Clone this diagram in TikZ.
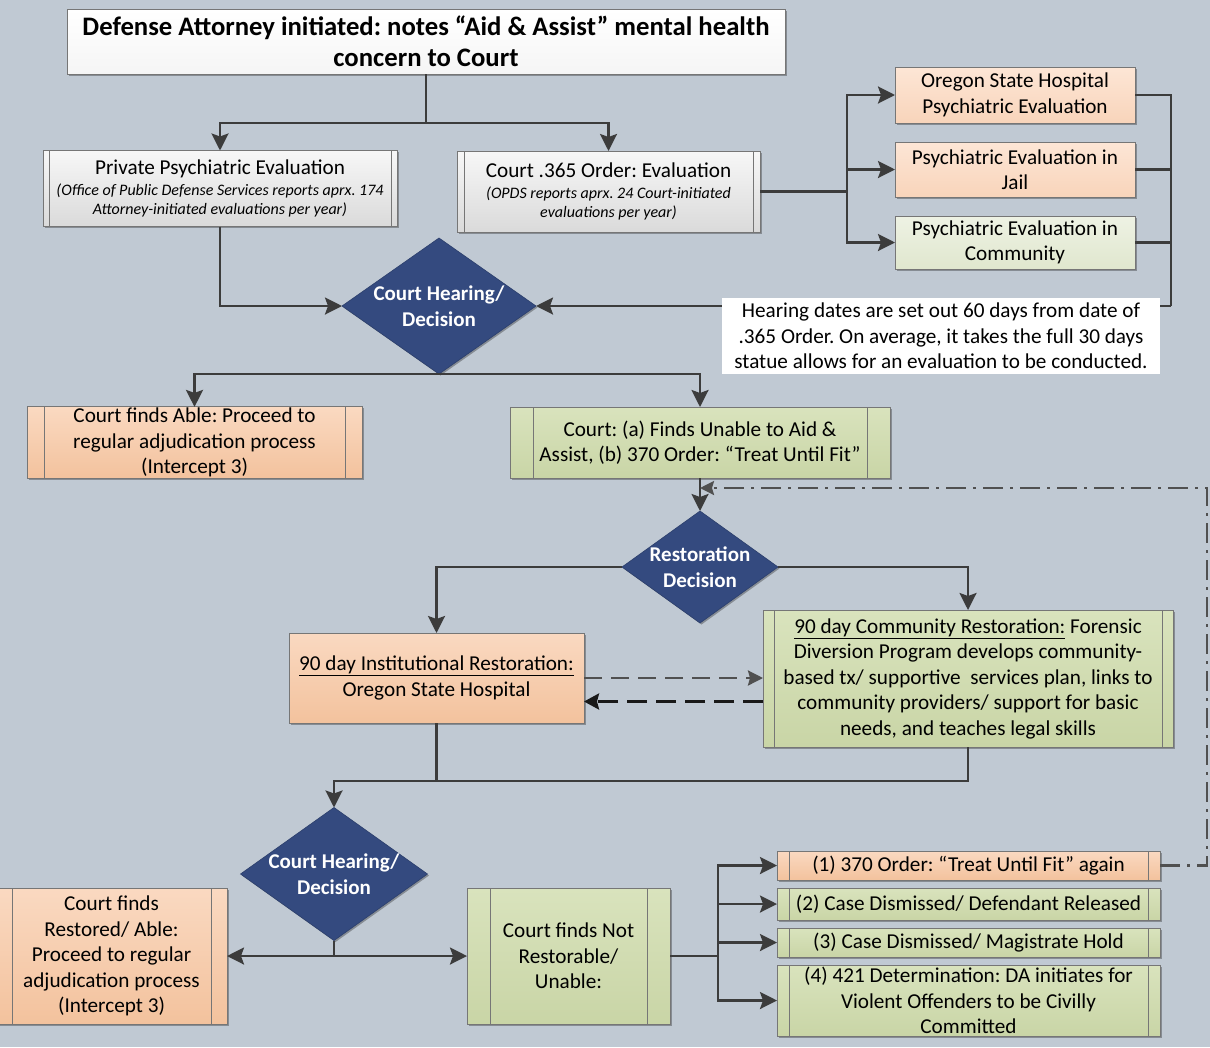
\documentclass[tikz,border=0pt]{standalone}
\usepackage{fontspec}
\setmainfont{Carlito}
\usetikzlibrary{arrows.meta,shapes.geometric,shadows,calc}

\definecolor{bg}{HTML}{C0C9D3}
\definecolor{boxline}{HTML}{767676}
\definecolor{wire}{HTML}{3C3C3C}
\definecolor{navy}{HTML}{344A7F}
\definecolor{peachA}{HTML}{FAD9C1}
\definecolor{peachB}{HTML}{F3C29D}
\definecolor{lpeachA}{HTML}{FDE6D6}
\definecolor{lpeachB}{HTML}{F8D4BA}
\definecolor{greenA}{HTML}{D9E3BD}
\definecolor{greenB}{HTML}{C9D5A6}
\definecolor{lgreenA}{HTML}{EEF2E4}
\definecolor{lgreenB}{HTML}{E0E7CE}
\definecolor{grayA}{HTML}{F7F7F7}
\definecolor{grayB}{HTML}{DADADA}

\newcommand\fmain{\fontsize{21.2}{25.5}\selectfont}
\newcommand\fsmall{\fontsize{16}{19}\selectfont}
\newcommand\ftitle{\fontsize{26.7}{31}\selectfont\bfseries}
\newcommand\fdia{\fontsize{21}{25.5}\selectfont\bfseries}
\frenchspacing

\begin{document}
\begin{tikzpicture}[x=1pt,y=-1pt,
  every node/.style={outer sep=0pt},
  box/.style={draw=boxline, line width=1pt, inner sep=1pt, align=center, font=\fmain,
    drop shadow={shadow xshift=1.5pt, shadow yshift=-1.5pt, opacity=0.3, fill=black}},
  peach/.style={top color=peachA, bottom color=peachB},
  lpeach/.style={top color=lpeachA, bottom color=lpeachB},
  greenbox/.style={top color=greenA, bottom color=greenB},
  lgreen/.style={top color=lgreenA, bottom color=lgreenB},
  graybox/.style={top color=grayA, bottom color=grayB},
  pp/.style={path picture={
    \draw[boxline, line width=1pt]
      ([xshift=#1pt]path picture bounding box.north west) -- ([xshift=#1pt]path picture bounding box.south west)
      ([xshift=-#1pt]path picture bounding box.north east) -- ([xshift=-#1pt]path picture bounding box.south east);}},
  diam/.style={shape=diamond, fill=navy, draw=navy!85!black, line width=0.6pt, inner sep=0pt,
    drop shadow={shadow xshift=1.5pt, shadow yshift=-1.5pt, opacity=0.3, fill=black}},
  dtext/.style={text=white, font=\fdia, align=center},
  conn/.style={draw=wire, line width=2.6pt},
  arr/.style={conn, -{Stealth[length=17pt,width=17pt,inset=3pt]}},
  loopline/.style={draw=wire!90, line width=2.4pt, dash pattern=on 20pt off 7pt on 3pt off 7pt},
]
\fill[bg] (0,0) rectangle (1210,1047);
\useasboundingbox (0,0) rectangle (1210,1047);

% ---------- boxes ----------
\node[box, top color=white, bottom color=grayA!90!black!30!white, font=\ftitle,
  minimum width=718pt, minimum height=65pt] (title) at (426,41.5)
  {Defense Attorney initiated: notes “Aid \& Assist” mental health\\concern to Court};

\node[box, graybox, pp=6, font=\fsmall, minimum width=354pt, minimum height=76pt] (priv) at (220,188.5)
  {{\fmain Private Psychiatric Evaluation}\\[2pt]
   \itshape (Office of Public Defense Services reports aprx. 174\\
   \itshape Attorney-initiated evaluations per year)};

\node[box, graybox, pp=7, font=\fsmall, minimum width=303pt, minimum height=81pt] (c365) at (608.5,191.5)
  {{\fmain Court .365 Order: Evaluation}\\[2pt]
   \itshape (OPDS reports aprx. 24 Court-initiated\\
   \itshape evaluations per year)};

\node[box, lpeach, minimum width=240pt, minimum height=56pt] (osh) at (1015,95)
  {Oregon State Hospital\\Psychiatric Evaluation};
\node[box, lpeach, minimum width=240pt, minimum height=55pt] (jail) at (1015,169.5)
  {Psychiatric Evaluation in\\Jail};
\node[box, lgreen, minimum width=240pt, minimum height=53pt] (ceval) at (1015,242.5)
  {Psychiatric Evaluation in\\Community};

\node[diam, minimum width=194pt, minimum height=136pt,
  label={[dtext]center:Court Hearing/\\Decision}] (d1) at (439,306) {};

\node[box, peach, pp=17, minimum width=335pt, minimum height=71pt] (able) at (194.5,442.5)
  {Court finds Able: Proceed to\\regular adjudication process\\(Intercept 3)};
\node[box, greenbox, pp=23, minimum width=380pt, minimum height=71pt] (ca) at (700,442.5)
  {Court: (a) Finds Unable to Aid \&\\Assist, (b) 370 Order: “Treat Until Fit”};

\node[diam, minimum width=156pt, minimum height=112pt,
  label={[dtext]center:Restoration\\Decision}] (d2) at (700,567) {};

\node[box, peach, minimum width=295pt, minimum height=90pt] (inst) at (436.5,678)
  {\underline{90 day Institutional Restoration:}\\Oregon State Hospital};
\node[box, greenbox, pp=11, minimum width=410pt, minimum height=137pt] (comm) at (968,678.5)
  {\underline{90 day Community Restoration:} Forensic\\
   Diversion Program develops community-\\
   based tx/ supportive\ \ services plan, links to\\
   community providers/ support for basic\\
   needs, and teaches legal skills};

\node[diam, minimum width=187pt, minimum height=133pt,
  label={[dtext]center:Court Hearing/\\Decision}] (d3) at (334,874) {};

\node[box, peach, pp=16, minimum width=231pt, minimum height=136pt] (rest) at (111.5,956)
  {Court finds\\Restored/ Able:\\Proceed to regular\\adjudication process\\(Intercept 3)};
\node[box, greenbox, pp=23, minimum width=203pt, minimum height=136pt] (notr) at (568.5,956)
  {Court finds Not\\Restorable/\\Unable:};

\node[box, peach, pp=12, inner sep=0pt, minimum width=383pt, minimum height=29pt] (t1) at (968.5,865.5)
  {(1) 370 Order: “Treat Until Fit” again};
\node[box, greenbox, pp=12, inner sep=0pt, minimum width=383pt, minimum height=32pt] (t2) at (968.5,904)
  {(2) Case Dismissed/ Defendant Released};
\node[box, greenbox, pp=12, inner sep=0pt, minimum width=383pt, minimum height=29pt] (t3) at (968.5,942.5)
  {(3) Case Dismissed/ Magistrate Hold};
\node[box, greenbox, pp=12, inner sep=0pt, minimum width=383pt, minimum height=71pt] (t4) at (968.5,1000.5)
  {(4) 421 Determination: DA initiates for\\Violent Offenders to be Civilly\\Committed};

% ---------- junction points ----------
\coordinate (fork1) at ([yshift=-49pt]title.south);
\coordinate (fork2) at ([xshift=87pt]c365.east);
\coordinate (merge) at (1171,306);
\coordinate (loopin) at ([yshift=-10pt]ca.south);
\coordinate (r1) at ([yshift=-23pt]comm.west);
\coordinate (mrg) at ([yshift=-58pt]inst.south);
\coordinate (j4) at (d3.south |- rest.east);
\coordinate (f5) at ([xshift=48pt]notr.east);

% ---------- connectors ----------
\draw[conn] (title.south) -- (fork1);
\draw[arr] (fork1) -| (priv.north);
\draw[arr] (fork1) -| (c365.north);

\draw[conn] (c365.east) -- (fork2);
\draw[arr] (fork2) |- (osh.west);
\draw[arr] (fork2) |- (jail.west);
\draw[arr] (fork2) |- (ceval.west);

\draw[conn] (osh.east) -| (merge);
\draw[conn] (jail.east) -| (merge);
\draw[conn] (ceval.east) -| (merge);
\draw[arr] (merge) -- (d1.east);

\draw[arr] (priv.south) |- (d1.west);

\draw[arr] (d1.south) -| (able.north);
\draw[arr] (d1.south) -| (ca.north);

\draw[arr] (ca.south) -- (d2.north);

\draw[arr] (d2.west) -| (inst.north);
\draw[arr] (d2.east) -| (comm.north);

\draw[draw=wire!90, line width=2.6pt, dash pattern=on 18pt off 9pt,
  -{Stealth[length=15pt,width=15pt,inset=2pt]}] (inst.east) -- (inst.east -| comm.west);
\draw[draw=black!90, line width=2.8pt, dash pattern=on 20pt off 9pt,
  -{Stealth[length=15pt,width=16pt,inset=2pt]}] (r1) -- (r1 -| inst.east);

\draw[conn] (inst.south) -- (mrg);
\draw[conn] (comm.south) |- (mrg);
\draw[arr] (mrg) -| (d3.north);

\draw[conn] (d3.south) -- (j4);
\draw[arr] (j4) -- (rest.east);
\draw[arr] (j4) -- (notr.west);

\draw[conn] (notr.east) -- (f5);
\draw[arr] (f5) |- (t1.west);
\draw[arr] (f5) |- (t2.west);
\draw[arr] (f5) |- (t3.west);
\draw[arr] (f5) |- (t4.west);

\draw[loopline, -{Stealth[length=14pt,width=14pt,inset=2pt]}] (t1.east) -- ++(47,0) |- (loopin);

% ---------- note over the return line ----------
\node[fill=white, inner sep=0pt, align=center, font=\fmain, minimum width=438pt, minimum height=76pt]
  (note) at (941,336)
  {Hearing dates are set out 60 days from date of\\
   .365 Order. On average, it takes the full 30 days\\
   statue allows for an evaluation to be conducted.};
\end{tikzpicture}
\end{document}
